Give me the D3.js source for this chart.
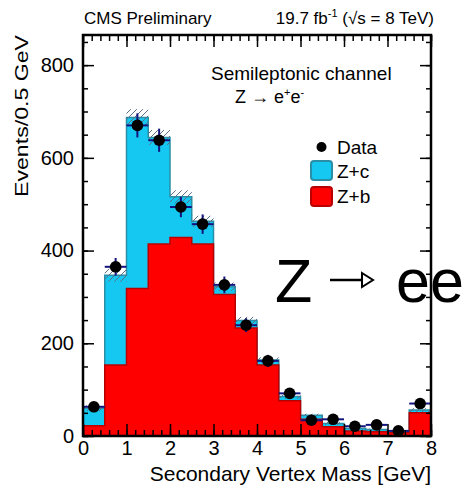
<!DOCTYPE html>
<html><head><meta charset="utf-8">
<script src="https://cdn.jsdelivr.net/npm/d3@7"></script>
<style>
body{margin:0;background:#fff}
svg{display:block}
text{font-family:"Liberation Sans",Arial,Helvetica,sans-serif;fill:#000}
</style>
</head><body>
<svg id="c" width="464" height="491"></svg>
<script>
// ---- data ----
const binEdges = [0,0.5,1,1.5,2,2.5,3,3.5,4,4.5,5,5.5,6,6.5,7,7.5,8];
const zbValues = [22,153,318,414,428,414,305,233,153,76,36,20,11,9,7,50];
const zcValues = [38,194,369,230,88,49,17,16,11,9,9,7,5,5,4,6];
const mcErr    = [6,14,18,16,14,12,9,8,6,5,3,3,2,2,2,4];
const dataValues = [63,365,670,638,494,457,326,239,162,92,34,36,21,24,11,70];
const dataErr    = [8,19,26,25,22,21,18,15,13,10,6,6,5,5,3,8];
const xTicks = [0,1,2,3,4,5,6,7,8];
const yTicks = [0,200,400,600,800];

// ---- layout ----
const svg = d3.select("#c");
const L = 83, R = 431, T = 35, B = 436;
const x = d3.scaleLinear().domain([0, 8]).range([L, R]);
const y = d3.scaleLinear().domain([0, 865]).range([B, T]);

const cyanFill = "#14c8f2", cyanLine = "#2a8ea6";
const redFill = "#ff0000", redLine = "#b80000";

const defs = svg.append("defs");
const pat = defs.append("pattern").attr("id","hatch").attr("patternUnits","userSpaceOnUse")
  .attr("width",6).attr("height",6);
pat.append("path").attr("d","M0,6 L6,0 M-1,1 L1,-1 M5,7 L7,5").attr("stroke","#5a7088").attr("stroke-width",1);

function stepPoints(vals){
  const pts = [];
  vals.forEach((v,i)=>{ pts.push({x:binEdges[i], v}); pts.push({x:binEdges[i+1], v}); });
  return pts;
}
const totals = zbValues.map((v,i)=>v+zcValues[i]);
const area = d3.area().x(d=>x(d.x)).y0(y(0)).y1(d=>y(d.v));
const line = d3.line().x(d=>x(d.x)).y(d=>y(d.v));

// stacked histograms
svg.append("path").attr("d", area(stepPoints(totals))).attr("fill", cyanFill);
svg.append("path").attr("d", line(stepPoints(totals))).attr("fill","none").attr("stroke",cyanLine).attr("stroke-width",1.5);
svg.append("path").attr("d", area(stepPoints(zbValues))).attr("fill", redFill);
svg.append("path").attr("d", line(stepPoints(zbValues))).attr("fill","none").attr("stroke",redLine).attr("stroke-width",1.5);

// MC uncertainty band
svg.append("g").selectAll("rect").data(totals).join("rect")
  .attr("x",(d,i)=>x(binEdges[i])).attr("width",(d,i)=>x(binEdges[i+1])-x(binEdges[i]))
  .attr("y",(d,i)=>y(d+mcErr[i])).attr("height",(d,i)=>y(d-mcErr[i])-y(d+mcErr[i]))
  .attr("fill","url(#hatch)");

// data points
const gd = svg.append("g");
dataValues.forEach((d,i)=>{
  const cx = x((binEdges[i]+binEdges[i+1])/2);
  gd.append("line").attr("x1",x(binEdges[i])).attr("x2",x(binEdges[i+1])).attr("y1",y(d)).attr("y2",y(d))
    .attr("stroke","#14147e").attr("stroke-width",2);
  gd.append("line").attr("x1",cx).attr("x2",cx).attr("y1",y(d-dataErr[i])).attr("y2",y(d+dataErr[i]))
    .attr("stroke","#14147e").attr("stroke-width",2);
  gd.append("circle").attr("cx",cx).attr("cy",y(d)).attr("r",5.8).attr("fill","#000");
});

// big annotation
svg.append("text").attr("x",275).attr("y",302).attr("font-size",61).text("Z");
svg.append("line").attr("x1",330).attr("x2",362).attr("y1",280).attr("y2",280).attr("stroke","#000").attr("stroke-width",2.5);
svg.append("path").attr("d","M362,273 L373,280 L362,287 Z").attr("fill","#fff").attr("stroke","#000").attr("stroke-width",2);
svg.append("text").attr("x",396).attr("y",302).attr("font-size",61).text("ee");

// axes
function styleAxis(g){ g.select(".domain").remove(); g.selectAll("line").attr("stroke","#000").attr("stroke-width",1.5); g.selectAll("text").attr("font-family",null).attr("font-size",20).attr("fill","#000"); }
const yMinor = d3.range(0, 866, 50);
const xMinor = d3.range(0, 8.001, 0.2);
svg.append("g").attr("transform",`translate(${L},0)`).call(d3.axisLeft(y).tickValues(yMinor).tickSize(-5).tickFormat("")).call(styleAxis);
svg.append("g").attr("transform",`translate(${L},0)`).call(d3.axisLeft(y).tickValues(yTicks).tickSize(-11).tickPadding(9).tickFormat(d3.format("d"))).call(styleAxis);
svg.append("g").attr("transform",`translate(${R},0)`).call(d3.axisRight(y).tickValues(yMinor).tickSize(-5).tickFormat("")).call(styleAxis);
svg.append("g").attr("transform",`translate(${R},0)`).call(d3.axisRight(y).tickValues(yTicks).tickSize(-11).tickFormat("")).call(styleAxis);
svg.append("g").attr("transform",`translate(0,${B})`).call(d3.axisBottom(x).tickValues(xMinor).tickSize(-6).tickFormat("")).call(styleAxis);
svg.append("g").attr("transform",`translate(0,${B})`).call(d3.axisBottom(x).tickValues(xTicks).tickSize(-12).tickPadding(5).tickFormat(d3.format("d"))).call(styleAxis);
svg.append("g").attr("transform",`translate(0,${T})`).call(d3.axisTop(x).tickValues(xMinor).tickSize(-6).tickFormat("")).call(styleAxis);
svg.append("g").attr("transform",`translate(0,${T})`).call(d3.axisTop(x).tickValues(xTicks).tickSize(-12).tickFormat("")).call(styleAxis);

svg.append("rect").attr("x",L).attr("y",T).attr("width",R-L).attr("height",B-T)
  .attr("fill","none").attr("stroke","#000").attr("stroke-width",2.5);

// axis titles
svg.append("text").attr("x",431).attr("y",481).attr("text-anchor","end").attr("font-size",21)
  .text("Secondary Vertex Mass [GeV]");
svg.append("text").attr("transform","translate(28,35) rotate(-90)").attr("text-anchor","end")
  .attr("font-size",18).attr("textLength",162).attr("lengthAdjust","spacingAndGlyphs")
  .text("Events/0.5 GeV");

// header
svg.append("text").attr("x",84).attr("y",24).attr("font-size",17).text("CMS Preliminary");
const hr = svg.append("text").attr("x",434).attr("y",24).attr("font-size",17).attr("text-anchor","end");
hr.append("tspan").text("19.7 fb");
hr.append("tspan").attr("font-size",11).attr("dy",-7).text("-1");
hr.append("tspan").attr("dy",7).text(" (√s = 8 TeV)");

// channel text
svg.append("text").attr("x",211).attr("y",80).attr("font-size",19).text("Semileptonic channel");
const zt = svg.append("text").attr("x",235).attr("y",103).attr("font-size",18);
zt.append("tspan").text("Z → e");
zt.append("tspan").attr("font-size",11).attr("dy",-7).text("+");
zt.append("tspan").attr("dy",7).text("e");
zt.append("tspan").attr("font-size",11).attr("dy",-7).text("-");

// legend
const legItems = ["Data","Z+c","Z+b"];
svg.append("circle").attr("cx",321.5).attr("cy",147).attr("r",5).attr("fill","#000");
svg.append("rect").attr("x",311).attr("y",161).attr("width",21).attr("height",19).attr("rx",3)
  .attr("fill",cyanFill).attr("stroke",cyanLine).attr("stroke-width",2);
svg.append("rect").attr("x",311).attr("y",187).attr("width",21).attr("height",19).attr("rx",3)
  .attr("fill",redFill).attr("stroke",redLine).attr("stroke-width",2);
legItems.forEach((t,i)=>{
  svg.append("text").attr("x",337).attr("y",[154,178,203][i]).attr("font-size",19).text(t);
});
</script>
</body></html>
